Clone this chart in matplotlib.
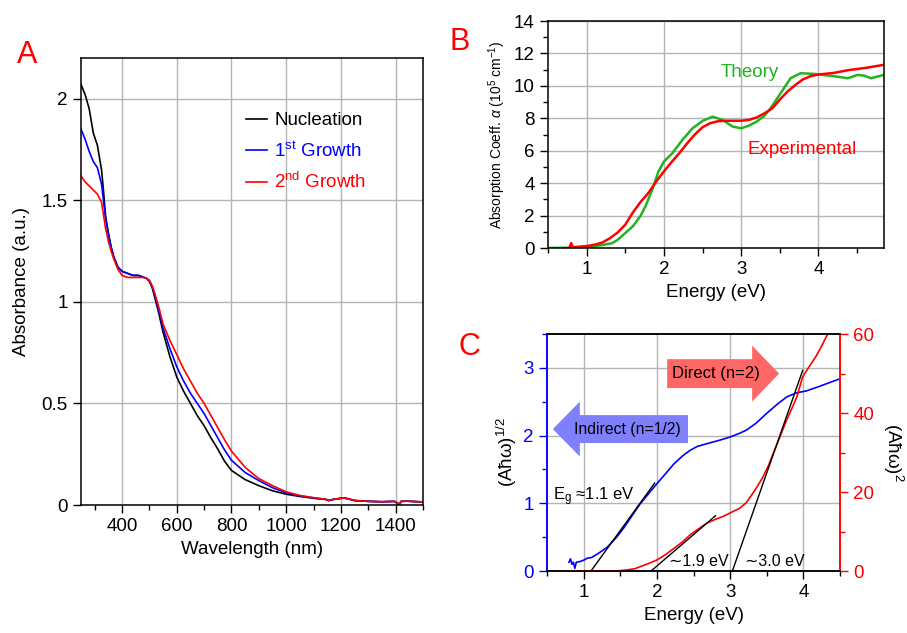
import matplotlib
matplotlib.use('Agg')
import matplotlib.pyplot as plt
from matplotlib.patches import FancyArrow
from matplotlib.ticker import MultipleLocator, FuncFormatter

plt.rcParams['font.family'] = ['Liberation Sans', 'DejaVu Sans']
plt.rcParams['mathtext.fontset'] = 'custom'
plt.rcParams['mathtext.rm'] = 'Liberation Sans'
plt.rcParams['mathtext.it'] = 'Liberation Sans:italic'
plt.rcParams['mathtext.bf'] = 'Liberation Sans:bold'

# Panel A: absorbance spectra
wavelength = [250, 265, 280, 295, 310, 325, 332, 340, 350, 360, 370, 385, 400, 420, 440, 460, 480,
              490, 500, 510, 520, 535, 550, 575, 600, 625, 650, 675, 700, 725, 750, 775, 800,
              850, 900, 950, 1000, 1050, 1100, 1145, 1155, 1170, 1210, 1225, 1250, 1300, 1350,
              1395, 1405, 1412, 1420, 1440, 1500]
nucleation = [2.07, 2.02, 1.95, 1.83, 1.77, 1.65, 1.55, 1.42, 1.34, 1.27, 1.22, 1.17, 1.15, 1.14,
              1.13, 1.13, 1.12, 1.115, 1.10, 1.07, 1.02, 0.94, 0.85, 0.73, 0.63, 0.56, 0.50,
              0.44, 0.39, 0.33, 0.275, 0.215, 0.17, 0.125, 0.095, 0.07, 0.053, 0.042, 0.033,
              0.027, 0.022, 0.027, 0.035, 0.031, 0.022, 0.018, 0.016, 0.018, 0.012, 0.004,
              0.018, 0.019, 0.015]
growth1 = [1.85, 1.80, 1.74, 1.69, 1.66, 1.58, 1.50, 1.41, 1.33, 1.27, 1.22, 1.17, 1.15, 1.14,
           1.13, 1.13, 1.12, 1.115, 1.105, 1.075, 1.03, 0.95, 0.87, 0.77, 0.68, 0.61, 0.55,
           0.50, 0.45, 0.39, 0.33, 0.27, 0.22, 0.16, 0.12, 0.085, 0.06, 0.045, 0.035, 0.028,
           0.022, 0.027, 0.035, 0.031, 0.022, 0.018, 0.016, 0.018, 0.008, -0.006, 0.018,
           0.019, 0.015]
growth2 = [1.62, 1.59, 1.57, 1.55, 1.53, 1.49, 1.43, 1.36, 1.30, 1.25, 1.21, 1.16, 1.13, 1.12,
           1.12, 1.12, 1.12, 1.115, 1.105, 1.08, 1.04, 0.97, 0.89, 0.81, 0.74, 0.67, 0.61,
           0.55, 0.50, 0.44, 0.38, 0.32, 0.265, 0.185, 0.13, 0.095, 0.065, 0.047, 0.036,
           0.028, 0.022, 0.027, 0.035, 0.031, 0.022, 0.018, 0.016, 0.018, 0.012, 0.004,
           0.018, 0.019, 0.015]

# Panel B: absorption coefficient
energy_exp = [0.78, 0.8, 0.82, 0.9, 1.0, 1.1, 1.2, 1.3, 1.4, 1.5, 1.6, 1.7, 1.8, 1.9, 2.0, 2.1,
              2.2, 2.3, 2.4, 2.5, 2.6, 2.7, 2.8, 3.0, 3.1, 3.2, 3.3, 3.4, 3.5, 3.6, 3.7, 3.8,
              3.9, 4.0, 4.2, 4.4, 4.6, 4.85]
alpha_exp = [0.05, 0.3, 0.05, 0.08, 0.12, 0.2, 0.33, 0.6, 0.95, 1.44, 2.2, 2.85, 3.4, 4.1, 4.72,
             5.3, 5.85, 6.45, 7.0, 7.45, 7.7, 7.82, 7.85, 7.85, 7.9, 8.05, 8.3, 8.6, 9.15, 9.65,
             10.05, 10.4, 10.6, 10.7, 10.8, 10.98, 11.1, 11.3]
energy_th = [0.5, 0.8, 1.0, 1.1, 1.2, 1.33, 1.4, 1.5, 1.6, 1.7, 1.76, 1.85, 1.93, 2.0, 2.11,
             2.24, 2.37, 2.5, 2.63, 2.76, 2.89, 3.0, 3.1, 3.2, 3.3, 3.38, 3.51, 3.64, 3.77,
             3.94, 4.1, 4.2, 4.38, 4.51, 4.6, 4.68, 4.85]
alpha_th = [0.0, 0.02, 0.05, 0.1, 0.18, 0.3, 0.5, 0.92, 1.35, 2.0, 2.56, 3.6, 4.72, 5.33, 5.85,
            6.67, 7.38, 7.84, 8.1, 7.9, 7.49, 7.38, 7.55, 7.79, 8.15, 8.61, 9.54, 10.47, 10.78,
            10.74, 10.65, 10.6, 10.47, 10.68, 10.62, 10.47, 10.68]

# Panel C: Tauc plots
energy_ind = [0.8, 0.82, 0.84, 0.86, 0.88, 0.9, 0.95, 1.0, 1.05, 1.11, 1.2, 1.32, 1.45, 1.55,
              1.65, 1.77, 1.9, 2.0, 2.12, 2.23, 2.35, 2.45, 2.55, 2.68, 2.85, 3.0, 3.12, 3.22,
              3.35, 3.5, 3.65, 3.77, 3.9, 4.04, 4.2, 4.35, 4.5]
tauc_ind = [0.13, 0.18, 0.1, 0.13, 0.04, 0.13, 0.14, 0.16, 0.19, 0.2, 0.26, 0.35, 0.5, 0.64,
            0.8, 0.99, 1.16, 1.29, 1.44, 1.58, 1.7, 1.78, 1.84, 1.88, 1.93, 1.98, 2.03, 2.08,
            2.18, 2.33, 2.47, 2.57, 2.63, 2.66, 2.72, 2.78, 2.84]
energy_dir = [0.8, 1.0, 1.2, 1.4, 1.5, 1.6, 1.7, 1.77, 1.9, 2.0, 2.12, 2.23, 2.35, 2.45, 2.57,
              2.68, 2.8, 2.9, 3.0, 3.13, 3.22, 3.31, 3.38, 3.45, 3.52, 3.58, 3.68, 3.77, 3.85,
              3.91, 3.99, 4.08, 4.17, 4.25, 4.33]
tauc_dir = [0, 0, 0, 0, 0.1, 0.3, 0.6, 1.1, 2.0, 2.8, 4.2, 5.7, 7.4, 9.1, 10.7, 12.1, 13.1, 13.8,
            14.7, 15.9, 17.3, 19.7, 21.7, 23.9, 26.6, 29.4, 34.0, 38.2, 41.5, 44.1, 49.2, 51.8,
            54.3, 57.0, 60.0]
fit_ind_x = [1.10, 1.97]
fit_ind_y = [0, 1.30]
fit_dir1_x = [1.92, 2.80]
fit_dir1_y = [0, 14.0]
fit_dir2_x = [3.03, 3.99]
fit_dir2_y = [0, 50.8]

GRID = '#b4b4b4'
GREEN = '#21b321'
FS = 13.5


def style_axes(ax):
    ax.grid(True, which='major', color=GRID, lw=1.0)
    ax.set_axisbelow(True)
    ax.tick_params(which='major', direction='out', length=6, width=1, labelsize=FS)
    ax.tick_params(which='minor', direction='out', length=3.5, width=1)
    for s in ax.spines.values():
        s.set_linewidth(1.1)


fig = plt.figure(figsize=(9.07, 6.33), dpi=100)

# ---- A ----
axA = fig.add_axes([0.0893, 0.2022, 0.3771, 0.7062])
axA.plot(wavelength, nucleation, color='black', lw=1.2, label='Nucleation')
axA.plot(wavelength, growth1, color='#0000ff', lw=1.2, label='1$^{\\rm st}$ Growth')
axA.plot(wavelength, growth2, color='#ff0000', lw=1.2, label='2$^{\\rm nd}$ Growth')
axA.set_xlim(250, 1500)
axA.set_ylim(0, 2.2)
axA.xaxis.set_major_locator(MultipleLocator(200))
axA.xaxis.set_minor_locator(MultipleLocator(100))
axA.yaxis.set_major_locator(MultipleLocator(0.5))
axA.yaxis.set_major_formatter(FuncFormatter(lambda v, p: '%g' % v))
style_axes(axA)
axA.set_xlabel('Wavelength (nm)', fontsize=FS)
axA.set_ylabel('Absorbance (a.u.)', fontsize=FS, labelpad=8)
axA.legend(loc='upper left', bbox_to_anchor=(0.455, 0.9), frameon=False, fontsize=FS,
           handlelength=1.1, handletextpad=0.4, labelspacing=0.62, borderpad=0,
           labelcolor='linecolor')

# ---- B ----
axB = fig.add_axes([0.6042, 0.6082, 0.3705, 0.3586])
axB.plot(energy_th, alpha_th, color=GREEN, lw=1.8)
axB.plot(energy_exp, alpha_exp, color='#ff0000', lw=1.8)
axB.set_xlim(0.5, 4.85)
axB.set_ylim(0, 14)
axB.xaxis.set_major_locator(MultipleLocator(1))
axB.xaxis.set_minor_locator(MultipleLocator(0.5))
axB.yaxis.set_major_locator(MultipleLocator(2))
axB.yaxis.set_minor_locator(MultipleLocator(1))
style_axes(axB)
axB.set_xlabel('Energy (eV)', fontsize=FS)
axB.set_ylabel('Absorption Coeff. $\\alpha$ (10$^5$ cm$^{-1}$)', fontsize=10)
axB.text(2.73, 10.8, 'Theory', color=GREEN, fontsize=FS, va='center')
axB.text(3.08, 6.1, 'Experimental', color='#ff0000', fontsize=FS, va='center')

# ---- C ----
axC = fig.add_axes([0.6031, 0.0979, 0.3231, 0.3744])
axR = axC.twinx()
axC.plot(energy_ind, tauc_ind, color='#0000ff', lw=1.2)
axC.plot(fit_ind_x, fit_ind_y, color='black', lw=1.0)
axR.plot(energy_dir, tauc_dir, color='#ff0000', lw=1.2)
axR.plot(fit_dir1_x, fit_dir1_y, color='black', lw=1.0)
axR.plot(fit_dir2_x, fit_dir2_y, color='black', lw=1.0)
axC.set_xlim(0.5, 4.5)
axC.set_ylim(0, 3.5)
axR.set_ylim(0, 60)
axC.xaxis.set_major_locator(MultipleLocator(1))
axC.xaxis.set_minor_locator(MultipleLocator(0.5))
axC.yaxis.set_major_locator(MultipleLocator(1))
axC.yaxis.set_minor_locator(MultipleLocator(0.5))
axR.yaxis.set_major_locator(MultipleLocator(20))
axR.yaxis.set_minor_locator(MultipleLocator(10))
style_axes(axC)
axR.tick_params(which='major', direction='out', length=6, width=1, labelsize=FS)
axR.tick_params(which='minor', direction='out', length=3.5, width=1)
axC.tick_params(axis='y', which='both', colors='#0000ff')
axR.tick_params(axis='y', which='both', colors='#ff0000')
for s in axR.spines.values():
    s.set_linewidth(1.1)
axR.spines['left'].set_color('#0000ff')
axR.spines['right'].set_color('#ff0000')
axC.spines['left'].set_color('#0000ff')
axC.spines['right'].set_color('#ff0000')
axC.set_xlabel('Energy (eV)', fontsize=FS)
axC.set_ylabel('(A\u0127\u03c9)$^{1/2}$', fontsize=FS, labelpad=3)
axR.set_ylabel('(A\u0127\u03c9)$^2$', fontsize=FS, rotation=270, labelpad=22)

axC.add_patch(FancyArrow(0.481, 0.599, -0.461, 0, width=0.118, head_width=0.232,
                         head_length=0.092, length_includes_head=True,
                         transform=axC.transAxes, color='#8080ff', lw=0, zorder=3))
axC.text(0.275, 0.599, 'Indirect (n=1/2)', transform=axC.transAxes, fontsize=11.3,
         ha='center', va='center', zorder=4)
axR.add_patch(FancyArrow(0.410, 0.833, 0.382, 0, width=0.122, head_width=0.236,
                         head_length=0.092, length_includes_head=True,
                         transform=axR.transAxes, color='#ff6666', lw=0, zorder=3))
axR.text(0.577, 0.833, 'Direct (n=2)', transform=axR.transAxes, fontsize=12,
         ha='center', va='center', zorder=4)
axC.text(0.58, 1.1, 'E$_{\\rm g}$ \u22481.1 eV', fontsize=12, va='center')
axC.text(2.16, 0.14, '\u223c1.9 eV', fontsize=11.5, va='center')
axC.text(3.2, 0.14, '\u223c3.0 eV', fontsize=11.5, va='center')

fig.text(0.0187, 0.9005, 'A', color='#ff0000', fontsize=22, va='baseline')
fig.text(0.496, 0.921, 'B', color='#ff0000', fontsize=22, va='baseline')
fig.text(0.505, 0.439, 'C', color='#ff0000', fontsize=22, va='baseline')

fig.savefig('out.png', dpi=100)
